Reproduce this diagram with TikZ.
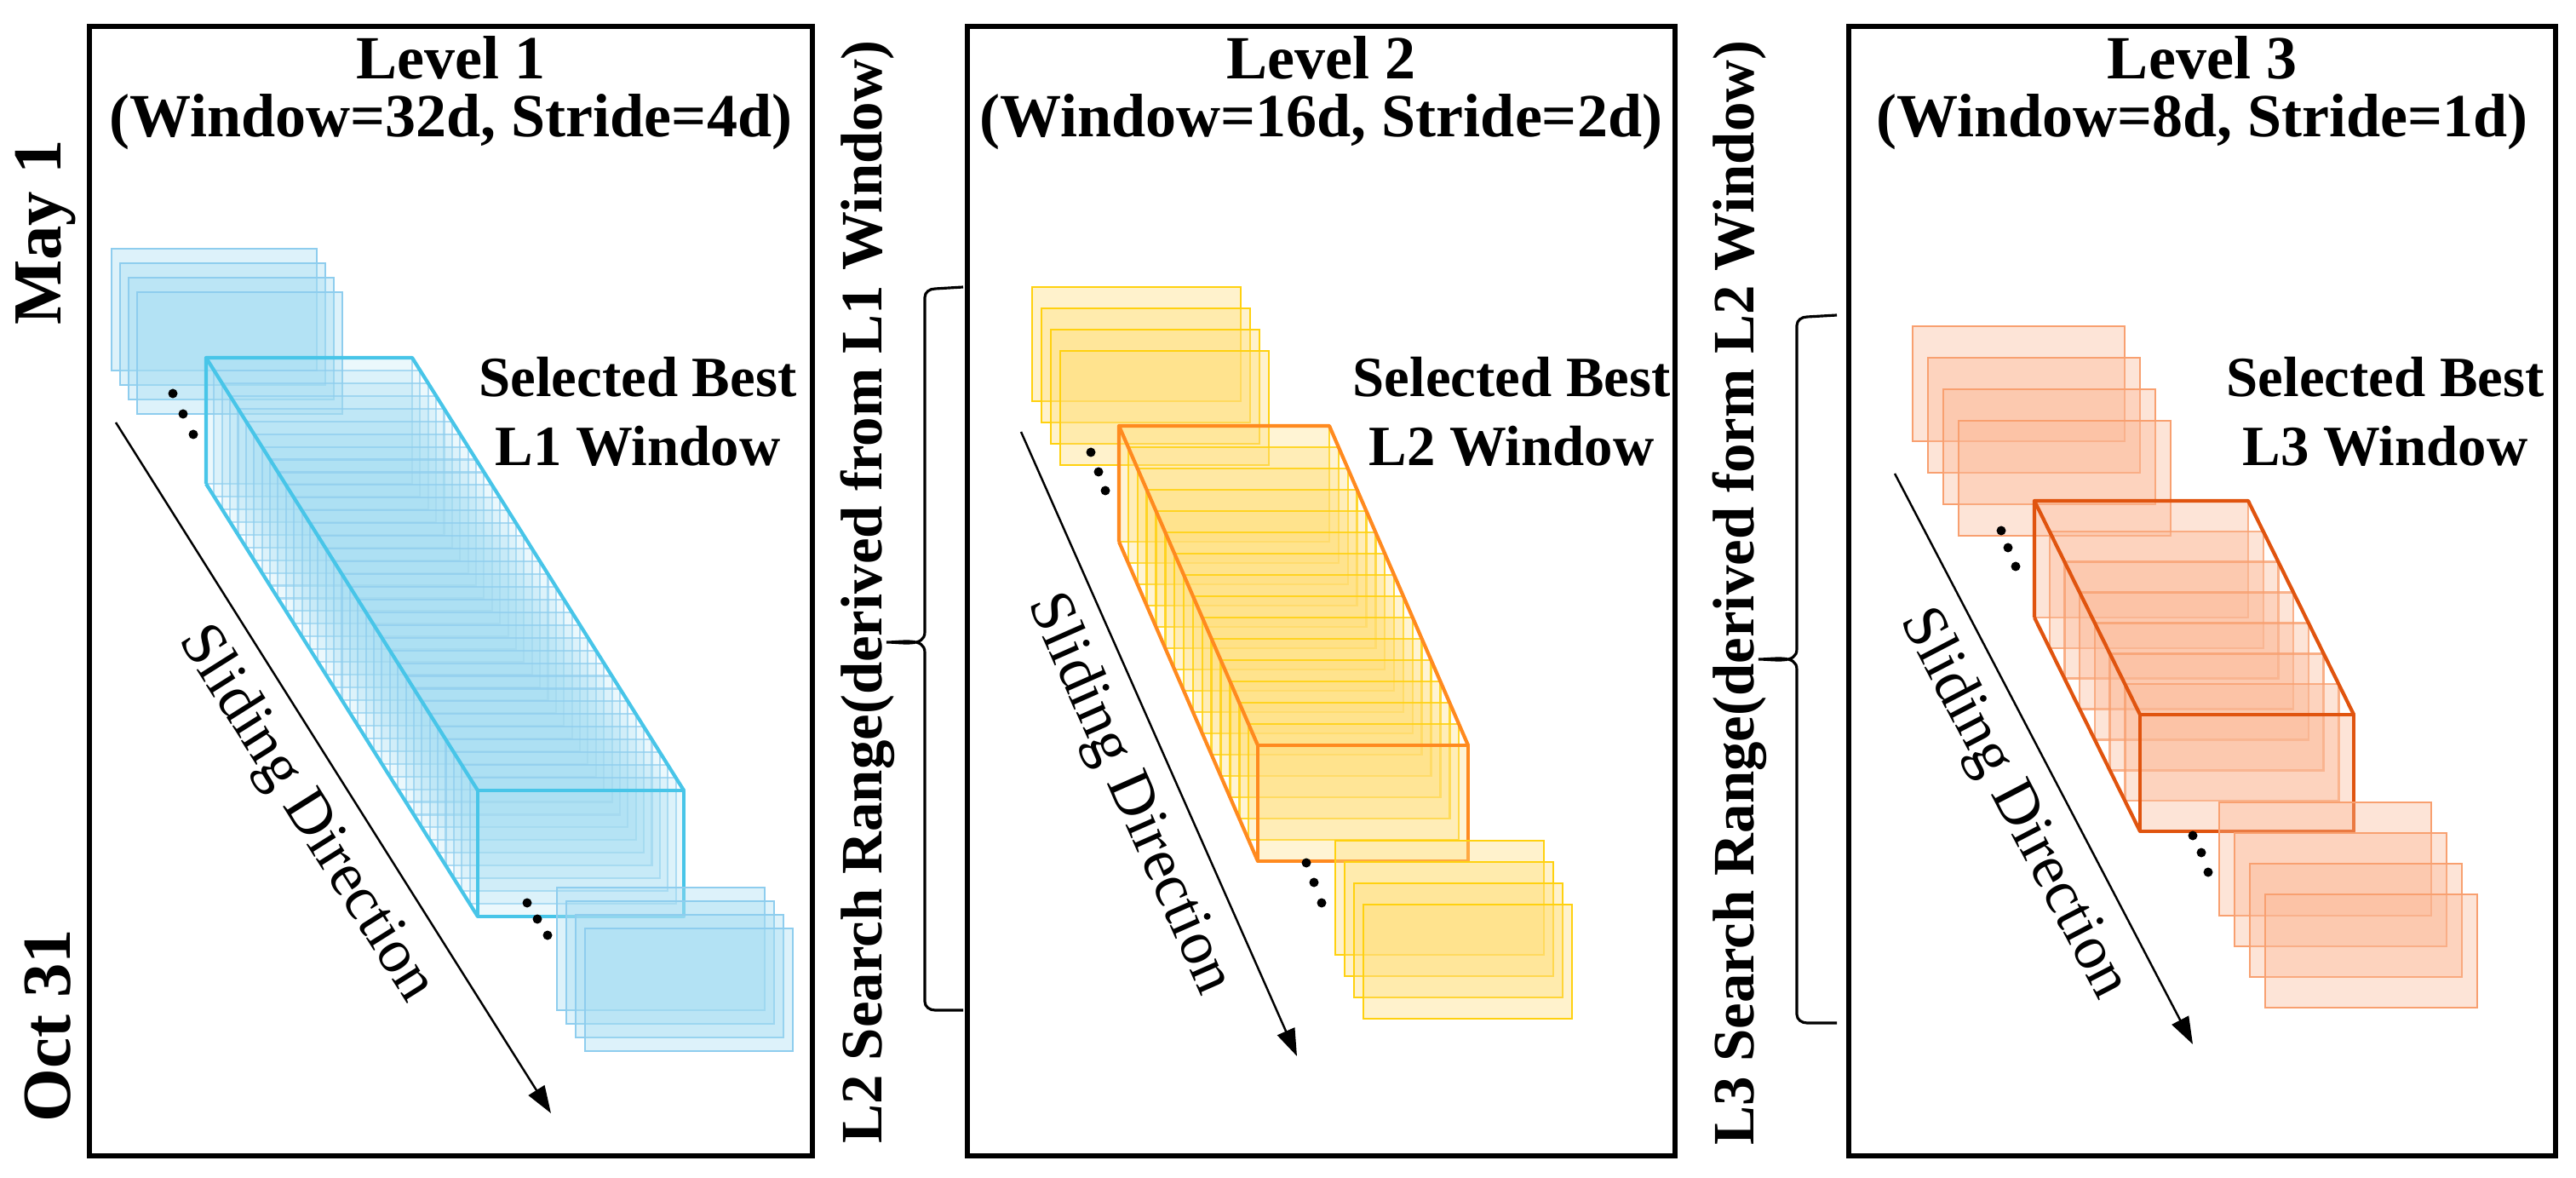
\documentclass[tikz,border=0pt]{standalone}
\usepackage{fontspec}
\setmainfont{Liberation Serif}
\usepackage{tikz}
\usetikzlibrary{arrows.meta, calc}

\definecolor{l1fill}{HTML}{A6DDF2}
\definecolor{l1line}{HTML}{8ECDEE}
\definecolor{l1edge}{HTML}{48C5E8}
\definecolor{l2fill}{HTML}{FFDE7A}
\definecolor{l2line}{HTML}{FFD10F}
\definecolor{l2edge}{HTML}{FF8A1F}
\definecolor{l3fill}{HTML}{FBB896}
\definecolor{l3line}{HTML}{F8A070}
\definecolor{l3edge}{HTML}{E0540F}

\tikzset{
  panelbox/.style={draw=black, line width=1.5pt},
  lvltitle/.style={anchor=base, font=\fontsize{20.5}{24}\selectfont\bfseries},
  bestlabel/.style={anchor=base, font=\fontsize{19}{22}\selectfont\bfseries},
  rangelabel/.style={rotate=90, font=\fontsize{19.6}{23}\selectfont\bfseries},
  datelabel/.style={rotate=90, font=\fontsize{23}{27}\selectfont\bfseries},
  slidelabel/.style={font=\fontsize{20.8}{24}\selectfont},
  slide/.style={line width=0.7pt, -{Triangle[length=0.32cm, width=0.22cm]}},
  bracket/.style={line width=0.9pt},
  win1/.style={draw=l1line, fill=l1fill, line width=0.8pt, fill opacity=0.38},
  win2/.style={draw=l2line, fill=l2fill, line width=0.8pt, fill opacity=0.38},
  win3/.style={draw=l3line, fill=l3fill, line width=0.8pt, fill opacity=0.38},
  cube1/.style={draw=l1line, fill=l1fill, line width=0.6pt, fill opacity=0.22, draw opacity=0.7},
  cube2/.style={draw=l2line, fill=l2fill, line width=0.7pt, fill opacity=0.32, draw opacity=0.85},
  cube3/.style={draw=l3line, fill=l3fill, line width=0.7pt, fill opacity=0.38, draw opacity=0.8},
  edge1/.style={draw=l1edge, line width=1.2pt, line join=round},
  edge2/.style={draw=l2edge, line width=1.2pt, line join=round},
  edge3/.style={draw=l3edge, line width=1.2pt, line join=round}
}

\begin{document}
\begin{tikzpicture}
        \useasboundingbox (0,0) rectangle (30.25,13.82);

        % --- Level 1 ---
        \draw[panelbox] (1.05,0.25) rectangle (9.54,13.51);
        \node[lvltitle] (lvl1) at (5.295,12.89) {Level 1};
        \node[lvltitle] (lvl1par) at (5.295,12.21) {(Window=32d, Stride=4d)};
        \node[datelabel] (may) at (0.54,11.09) {May 1};
        \node[datelabel] (oct) at (0.56,1.78) {Oct 31};
        % windows before the selected one
        \foreach \i in {0,...,3}
            \draw[win1] (1.31+0.10*\i,10.90-0.17*\i) rectangle ++(2.41,-1.43);
        \fill[black] (2.03,9.20) circle (0.055);
        \fill[black] (2.15,8.96) circle (0.055);
        \fill[black] (2.27,8.72) circle (0.055);
        % selected best L1 window (stack of slid windows)
        \coordinate (c1back) at (2.42,9.62);
        \coordinate (c1front) at (5.61,4.54);
        \foreach \i in {0,...,34}
            \draw[cube1] ($(c1back)!\i/34!(c1front)$) rectangle ++(2.42,-1.48);
        \draw[edge1] ($(c1back)+(0,-1.48)$) -- (c1back) -- ++(2.42,0) -- ($(c1front)+(2.42,0)$);
        \draw[edge1] (c1back) -- (c1front);
        \draw[edge1] ($(c1back)+(0,-1.48)$) -- ($(c1front)+(0,-1.48)$);
        \draw[edge1] (c1front) rectangle ++(2.42,-1.48);
        % windows after the selected one
        \fill[black] (6.19,3.22) circle (0.055);
        \fill[black] (6.31,3.03) circle (0.055);
        \fill[black] (6.43,2.84) circle (0.055);
        \foreach \i in {0,...,3}
            \draw[win1] (6.54+0.11*\i,3.40-0.16*\i) rectangle ++(2.44,-1.44);
        \node[bestlabel] (best1) at (7.49,9.16) {Selected Best};
        \node[bestlabel] (best1b) at (7.49,8.35) {L1 Window};
        % sliding arrow
        \coordinate (s1a) at (1.36,8.86);
        \coordinate (s1b) at (6.47,0.75);
        \draw[slide] (s1a) -- node[slidelabel, pos=0.53, below=3pt, sloped] (sl1) {Sliding Direction} (s1b);

        % --- L2 search range ---
        \draw[bracket] (11.31,10.45) -- (10.98,10.43) to[out=180,in=90] (10.86,10.33) -- (10.86,6.40)
            to[out=-90,in=0] (10.41,6.28) to[out=0,in=90] (10.86,6.16) -- (10.86,2.06)
            to[out=-90,in=180] (10.98,1.96) -- (11.31,1.96);
        \node[rangelabel] (range2) at (10.19,6.87) {L2 Search Range(derived from L1 Window)};

        % --- Level 2 ---
        \draw[panelbox] (11.36,0.25) rectangle (19.67,13.51);
        \node[lvltitle] (lvl2) at (15.515,12.89) {Level 2};
        \node[lvltitle] (lvl2par) at (15.515,12.21) {(Window=16d, Stride=2d)};
        \foreach \i in {0,...,3}
            \draw[win2] (12.12+0.11*\i,10.45-0.25*\i) rectangle ++(2.45,-1.34);
        \fill[black] (12.81,8.51) circle (0.055);
        \fill[black] (12.90,8.28) circle (0.055);
        \fill[black] (12.98,8.06) circle (0.055);
        \coordinate (c2back) at (13.14,8.82);
        \coordinate (c2front) at (14.77,5.07);
        \foreach \i in {0,...,15}
            \draw[cube2] ($(c2back)!\i/15!(c2front)$) rectangle ++(2.47,-1.36);
        \draw[edge2] ($(c2back)+(0,-1.36)$) -- (c2back) -- ++(2.47,0) -- ($(c2front)+(2.47,0)$);
        \draw[edge2] (c2back) -- (c2front);
        \draw[edge2] ($(c2back)+(0,-1.36)$) -- ($(c2front)+(0,-1.36)$);
        \draw[edge2] (c2front) rectangle ++(2.47,-1.36);
        \fill[black] (15.34,3.69) circle (0.055);
        \fill[black] (15.43,3.46) circle (0.055);
        \fill[black] (15.52,3.22) circle (0.055);
        \foreach \i in {0,...,3}
            \draw[win2] (15.68+0.11*\i,3.95-0.25*\i) rectangle ++(2.45,-1.34);
        \node[bestlabel] (best2) at (17.75,9.16) {Selected Best};
        \node[bestlabel] (best2b) at (17.75,8.35) {L2 Window};
        \coordinate (s2a) at (11.99,8.75);
        \coordinate (s2b) at (15.23,1.42);
        \draw[slide] (s2a) -- node[slidelabel, pos=0.55, below=3pt, sloped] (sl2) {Sliding Direction} (s2b);

        % --- L3 search range ---
        \draw[bracket] (21.57,10.12) -- (21.22,10.10) to[out=180,in=90] (21.10,10.00) -- (21.10,6.20)
            to[out=-90,in=0] (20.65,6.08) to[out=0,in=90] (21.10,5.96) -- (21.10,1.91)
            to[out=-90,in=180] (21.22,1.81) -- (21.57,1.81);
        \node[rangelabel] (range3) at (20.43,6.86) {L3 Search Range(derived form L2 Window)};

        % --- Level 3 ---
        \draw[panelbox] (21.71,0.25) rectangle (30.01,13.51);
        \node[lvltitle] (lvl3) at (25.86,12.89) {Level 3};
        \node[lvltitle] (lvl3par) at (25.86,12.21) {(Window=8d, Stride=1d)};
        \foreach \i in {0,...,3}
            \draw[win3] (22.46+0.18*\i,9.99-0.37*\i) rectangle ++(2.49,-1.35);
        \fill[black] (23.50,7.59) circle (0.055);
        \fill[black] (23.58,7.39) circle (0.055);
        \fill[black] (23.67,7.17) circle (0.055);
        \coordinate (c3back) at (23.89,7.94);
        \coordinate (c3front) at (25.13,5.43);
        \foreach \i in {0,...,7}
            \draw[cube3] ($(c3back)!\i/7!(c3front)$) rectangle ++(2.51,-1.37);
        \draw[edge3] ($(c3back)+(0,-1.37)$) -- (c3back) -- ++(2.51,0) -- ($(c3front)+(2.51,0)$);
        \draw[edge3] (c3back) -- (c3front);
        \draw[edge3] ($(c3back)+(0,-1.37)$) -- ($(c3front)+(0,-1.37)$);
        \draw[edge3] (c3front) rectangle ++(2.51,-1.37);
        \fill[black] (25.75,4.01) circle (0.055);
        \fill[black] (25.85,3.81) circle (0.055);
        \fill[black] (25.93,3.58) circle (0.055);
        \foreach \i in {0,...,3}
            \draw[win3] (26.06+0.18*\i,4.40-0.36*\i) rectangle ++(2.49,-1.33);
        \node[bestlabel] (best3) at (28.01,9.16) {Selected Best};
        \node[bestlabel] (best3b) at (28.01,8.35) {L3 Window};
        \coordinate (s3a) at (22.25,8.26);
        \coordinate (s3b) at (25.75,1.56);
        \draw[slide] (s3a) -- node[slidelabel, pos=0.54, below=3pt, sloped] (sl3) {Sliding Direction} (s3b);
    \end{tikzpicture}
\end{document}
